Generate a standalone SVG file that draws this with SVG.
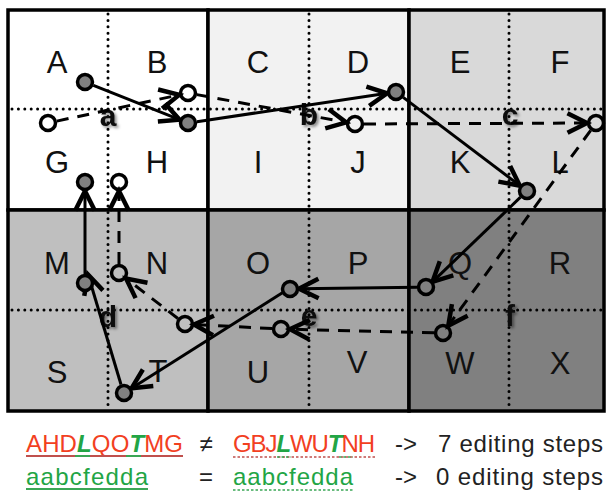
<svg xmlns="http://www.w3.org/2000/svg" width="606" height="494" viewBox="0 0 606 494">
<style>
.cell{stroke:#000;stroke-width:3.5}
.dot{stroke:#000;stroke-width:3;stroke-dasharray:0 6.4;stroke-linecap:round;fill:none}
.big{font-family:"Liberation Sans",Arial,sans-serif;font-size:31px;fill:#111;text-anchor:middle}
.sm{font-family:"Liberation Sans",Arial,sans-serif;font-size:30px;font-weight:bold;fill:#111;text-anchor:middle;filter:url(#sh)}
.sol{stroke:#000;stroke-width:3;fill:none;marker-end:url(#ah)}
.das{stroke:#000;stroke-width:3;fill:none;stroke-dasharray:12 9;marker-end:url(#ah)}
.fn{fill:#808080;stroke:#000;stroke-width:3.5}
.on{fill:none;stroke:#000;stroke-width:3.5}
.t{font-family:"Liberation Sans",Arial,sans-serif;font-size:24px}
.r{fill:#f2401f}
.g{fill:#22a545}
.gi{fill:#22a545;font-weight:bold;font-style:italic}
.k{fill:#222}
</style>
<defs>
<marker id="ah" markerUnits="userSpaceOnUse" markerWidth="30" markerHeight="30" refX="0" refY="0" viewBox="-16 -10 20 20" orient="auto" overflow="visible">
<path d="M-13,-6.5 L0,0 L-13,6.5" fill="none" stroke="#000" stroke-width="3" stroke-linejoin="miter"/>
</marker>
<filter id="sh" x="-50%" y="-50%" width="200%" height="200%">
<feGaussianBlur in="SourceAlpha" stdDeviation="1.6"/>
<feOffset dx="1.5" dy="1.5" result="b"/>
<feFlood flood-color="#000" flood-opacity="0.45"/>
<feComposite in2="b" operator="in"/>
<feMerge><feMergeNode/><feMergeNode in="SourceGraphic"/></feMerge>
</filter>
</defs>

<g id="grid">
<rect id="cell-ABGH" class="cell" x="8" y="10" width="200" height="200" fill="#ffffff"/>
<rect id="cell-CDIJ" class="cell" x="208" y="10" width="201" height="200" fill="#f2f2f2"/>
<rect id="cell-EFKL" class="cell" x="409" y="10" width="195" height="200" fill="#d9d9d9"/>
<rect id="cell-MNST" class="cell" x="8" y="210" width="200" height="201" fill="#bfbfbf"/>
<rect id="cell-OPUV" class="cell" x="208" y="210" width="201" height="201" fill="#a6a6a6"/>
<rect id="cell-QRWX" class="cell" x="409" y="210" width="195" height="201" fill="#808080"/>
<line class="dot" x1="108" y1="14" x2="108" y2="408"/>
<line class="dot" x1="309" y1="14" x2="309" y2="408"/>
<line class="dot" x1="509" y1="14" x2="509" y2="408"/>
<line class="dot" x1="12" y1="109" x2="602" y2="109"/>
<line class="dot" x1="12" y1="310" x2="602" y2="310"/>
</g>

<g id="labels">
<text class="big" x="57" y="73">A</text>
<text class="big" x="157" y="73">B</text>
<text class="big" x="258" y="73">C</text>
<text class="big" x="358" y="73">D</text>
<text class="big" x="460" y="73">E</text>
<text class="big" x="560" y="73">F</text>
<text class="big" x="57" y="173">G</text>
<text class="big" x="157" y="173">H</text>
<text class="big" x="258" y="173">I</text>
<text class="big" x="358" y="173">J</text>
<text class="big" x="460" y="173">K</text>
<text class="big" x="560" y="173">L</text>
<text class="big" x="57" y="274">M</text>
<text class="big" x="157" y="274">N</text>
<text class="big" x="258" y="274">O</text>
<text class="big" x="358" y="274">P</text>
<text class="big" x="460" y="274">Q</text>
<text class="big" x="560" y="274">R</text>
<text class="big" x="57" y="383">S</text>
<text class="big" x="158" y="382">T</text>
<text class="big" x="258" y="383">U</text>
<text class="big" x="357" y="373">V</text>
<text class="big" x="460" y="374">W</text>
<text class="big" x="560" y="374">X</text>
<text class="sm" x="108" y="126">a</text>
<text class="sm" x="309" y="125">b</text>
<text class="sm" x="510" y="125">c</text>
<text class="sm" x="108" y="327">d</text>
<text class="sm" x="309" y="326">e</text>
<text class="sm" x="510" y="326">f</text>
</g>

<g id="connectors">
<line class="sol" x1="93.4" y1="85.3" x2="179.6" y2="119.7"/>
<line class="sol" x1="196.9" y1="121.7" x2="387.1" y2="93.3"/>
<line class="sol" x1="403.2" y1="97.4" x2="519.8" y2="185.6"/>
<line class="sol" x1="520.5" y1="197.2" x2="432.5" y2="281.8"/>
<line class="sol" x1="417" y1="287.3" x2="299" y2="288.8"/>
<line class="sol" x1="282.4" y1="292.8" x2="131.6" y2="388.2"/>
<line class="sol" x1="121" y1="384.5" x2="88" y2="274.5"/>
<line class="sol" x1="85" y1="274" x2="85" y2="191"/>
<line class="das" x1="56.8" y1="121.1" x2="179.2" y2="94.9"/>
<line class="das" x1="196.8" y1="94.6" x2="346.2" y2="122.4"/>
<line class="das" x1="364" y1="124" x2="587" y2="123"/>
<line class="das" x1="590.7" y1="130.3" x2="448.3" y2="325.7"/>
<line class="das" x1="434" y1="332.8" x2="290" y2="329.2"/>
<line class="das" x1="272" y1="328.5" x2="194" y2="324.5"/>
<line class="das" x1="177.9" y1="318.5" x2="126.1" y2="278.5"/>
<line class="das" x1="119" y1="264" x2="119" y2="191"/>
</g>

<g id="node-A1"><circle class="fn" cx="85" cy="82" r="7.5"/></g>
<g id="node-H1"><circle class="fn" cx="188" cy="123" r="7.5"/></g>
<g id="node-D1"><circle class="fn" cx="396" cy="92" r="7.5"/></g>
<g id="node-L1"><circle class="fn" cx="527" cy="191" r="7.5"/></g>
<g id="node-Q1"><circle class="fn" cx="426" cy="287" r="7.5"/></g>
<g id="node-O1"><circle class="fn" cx="290" cy="289" r="7.5"/></g>
<g id="node-T1"><circle class="fn" cx="124" cy="393" r="7.5"/></g>
<g id="node-M1"><circle class="fn" cx="85" cy="283" r="7.5"/></g>
<g id="node-G1"><circle class="fn" cx="85" cy="182" r="7.5"/></g>
<g id="node-G2"><circle class="on" cx="48" cy="123" r="7.5"/></g>
<g id="node-B2"><circle class="on" cx="188" cy="93" r="7.5"/></g>
<g id="node-J2"><circle class="on" cx="355" cy="124" r="7.5"/></g>
<g id="node-L2"><circle class="on" cx="596" cy="123" r="7.5"/></g>
<g id="node-W2"><circle class="on" cx="443" cy="333" r="7.5"/></g>
<g id="node-U2"><circle class="on" cx="281" cy="329" r="7.5"/></g>
<g id="node-T2"><circle class="on" cx="185" cy="324" r="7.5"/></g>
<g id="node-N2"><circle class="on" cx="119" cy="273" r="7.5"/></g>
<g id="node-H2"><circle class="on" cx="119" cy="182" r="7.5"/></g>

<g id="caption">
<text class="t" x="26" y="452" textLength="157" lengthAdjust="spacing"><tspan class="r">AHD</tspan><tspan class="gi">L</tspan><tspan class="r">QO</tspan><tspan class="gi">T</tspan><tspan class="r">MG</tspan></text>
<line x1="26" y1="456" x2="183" y2="456" stroke="#c0504d" stroke-width="2"/>
<line x1="75" y1="456" x2="90" y2="456" stroke="#3aa655" stroke-width="2"/>
<line x1="126" y1="456" x2="141" y2="456" stroke="#3aa655" stroke-width="2"/>
<text class="t k" x="206" y="452" text-anchor="middle" font-size="20">≠</text>
<text class="t" x="233" y="452" textLength="142" lengthAdjust="spacing"><tspan class="r">GBJ</tspan><tspan class="gi">L</tspan><tspan class="r">WU</tspan><tspan class="gi">T</tspan><tspan class="r">NH</tspan></text>
<line x1="233" y1="457" x2="375" y2="457" stroke="#c0504d" stroke-width="1.6" stroke-dasharray="2.5 2"/>
<line x1="277" y1="457" x2="291" y2="457" stroke="#3aa655" stroke-width="1.6" stroke-dasharray="2.5 2"/>
<line x1="339" y1="457" x2="353" y2="457" stroke="#3aa655" stroke-width="1.6" stroke-dasharray="2.5 2"/>
<text class="t k" x="395" y="452">-&gt;</text>
<text class="t k" x="438" y="452" textLength="165" lengthAdjust="spacing">7 editing steps</text>
<text class="t g" x="26" y="485" textLength="122" lengthAdjust="spacing">aabcfedda</text>
<line x1="26" y1="489" x2="148" y2="489" stroke="#3aa655" stroke-width="2"/>
<text class="t k" x="206" y="485" text-anchor="middle" font-size="20">=</text>
<text class="t g" x="233" y="485" textLength="120" lengthAdjust="spacing">aabcfedda</text>
<line x1="233" y1="490" x2="353" y2="490" stroke="#3aa655" stroke-width="1.6" stroke-dasharray="2.5 2"/>
<text class="t k" x="395" y="485">-&gt;</text>
<text class="t k" x="436" y="485" textLength="167" lengthAdjust="spacing">0 editing steps</text>
</g>
</svg>
